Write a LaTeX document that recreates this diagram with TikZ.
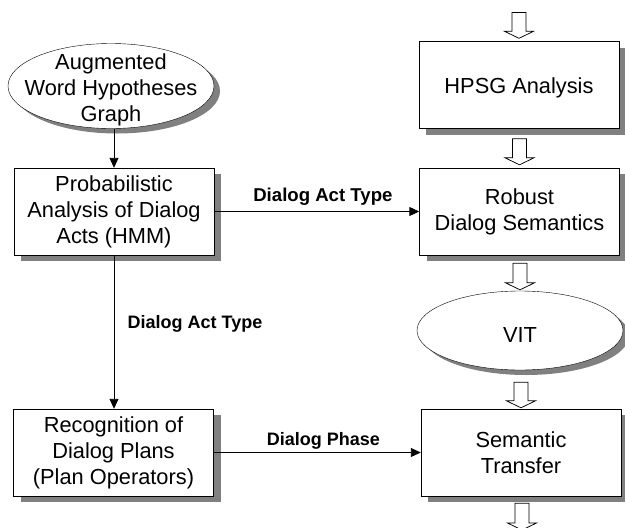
\documentclass[tikz,border=0pt]{standalone}
\usepackage{fontspec}
\setmainfont{Liberation Sans}
\usetikzlibrary{shapes.geometric,arrows.meta,calc}

% wide hollow block arrow, drawn from a start point straight down to a tip
\newcommand\hollowarrow[2]{%
  \draw[hollow] let \p1=#1, \p2=#2 in
    (\x2-7pt,\y1) -- (\x2+7pt,\y1) -- (\x2+7pt,\y2+7pt) -- (\x2+14.5pt,\y2+7pt)
    -- (\x2,\y2) -- (\x2-14.5pt,\y2+7pt) -- (\x2-7pt,\y2+7pt) -- cycle;}

\begin{document}
\begin{tikzpicture}[x=1pt,y=-1pt,
  maintext/.style={font=\fontsize{21.8}{26}\selectfont},
  procbox/.style={draw,fill=white,minimum width=200pt,
    minimum height=87pt,inner sep=0pt,align=center,maintext,
    execute at begin node={\rule{0pt}{22pt}}},
  dataell/.style={ellipse,draw,fill=white,inner sep=0pt,maintext},
  flow/.style={line width=0.9pt,-{Triangle[length=10pt,width=9pt]}},
  flowlabel/.style={font=\fontsize{18}{21}\selectfont\bfseries,inner sep=0pt},
  hollow/.style={draw=black,line width=0.75pt,fill=white}
]
\useasboundingbox (0,0) rectangle (625,528);

% gray drop shadows, laid down first so the shapes cover them
\fill[gray] (117,91) ellipse [x radius=103, y radius=42.5];
\fill[gray] (526,335.5) ellipse [x radius=103, y radius=39.5];
\fill[gray] (21,174) rectangle (221,261);
\fill[gray] (20.5,415) rectangle (220.5,502);
\fill[gray] (426,47.5) rectangle (626,134.5);
\fill[gray] (426.5,174) rectangle (626.5,261);
\fill[gray] (428,415) rectangle (628,502);

% left column: statistical dialog processing
\node[dataell,minimum width=206pt,minimum height=85pt,
  label={[maintext,align=center,yshift=-4pt]center:Augmented\\Word Hypotheses\\Graph}]
  (awhg) at (111,86) {};
\node[procbox] (pada) at (114,211.5) {Probabilistic\\Analysis of Dialog\\Acts (HMM)};
\node[procbox] (rdp) at (113.5,452.5) {Recognition of\\Dialog Plans\\(Plan Operators)};

% right column: deep analysis and transfer
\node[procbox] (hpsg) at (519,85) {HPSG Analysis};
\node[procbox] (rds) at (519.5,211.5) {Robust\\Dialog Semantics};
\node[dataell,minimum width=206pt,minimum height=79pt,
  label={[maintext,yshift=-4pt]center:VIT}] (vit) at (520,330.5) {};
\node[procbox] (st) at (521,452.5) {Semantic\\Transfer};

% thin flow arrows with labels
\draw[flow] (awhg.south -| pada.north) -- (pada.north);
\draw[flow] (pada.south) -- (pada.south |- rdp.north)
  node[flowlabel,pos=0.45,xshift=81pt] {Dialog Act Type};
\draw[flow] (pada.east) -- (rds.west)
  node[flowlabel,pos=0.53,yshift=15pt,font=\fontsize{18.6}{21}\selectfont\bfseries] {Dialog Act Type};
\draw[flow] (rdp.east) -- (st.west)
  node[flowlabel,pos=0.53,yshift=12pt] {Dialog Phase};

% hollow arrows of the main pipeline
\coordinate (feed) at (518,12.5);
\coordinate (out) at (522,530);
\hollowarrow{(feed)}{($(hpsg.north)+(0,-3)$)}
\hollowarrow{($(hpsg.south)+(0,10)$)}{($(rds.north)+(0,-3)$)}
\hollowarrow{($(rds.south)+(0,8)$)}{($(vit.north)+(0,-1)$)}
\hollowarrow{($(vit.south)+(0,12)$)}{($(st.north)+(0,-1)$)}
\hollowarrow{($(st.south)+(0,7)$)}{(out)}
\end{tikzpicture}
\end{document}
